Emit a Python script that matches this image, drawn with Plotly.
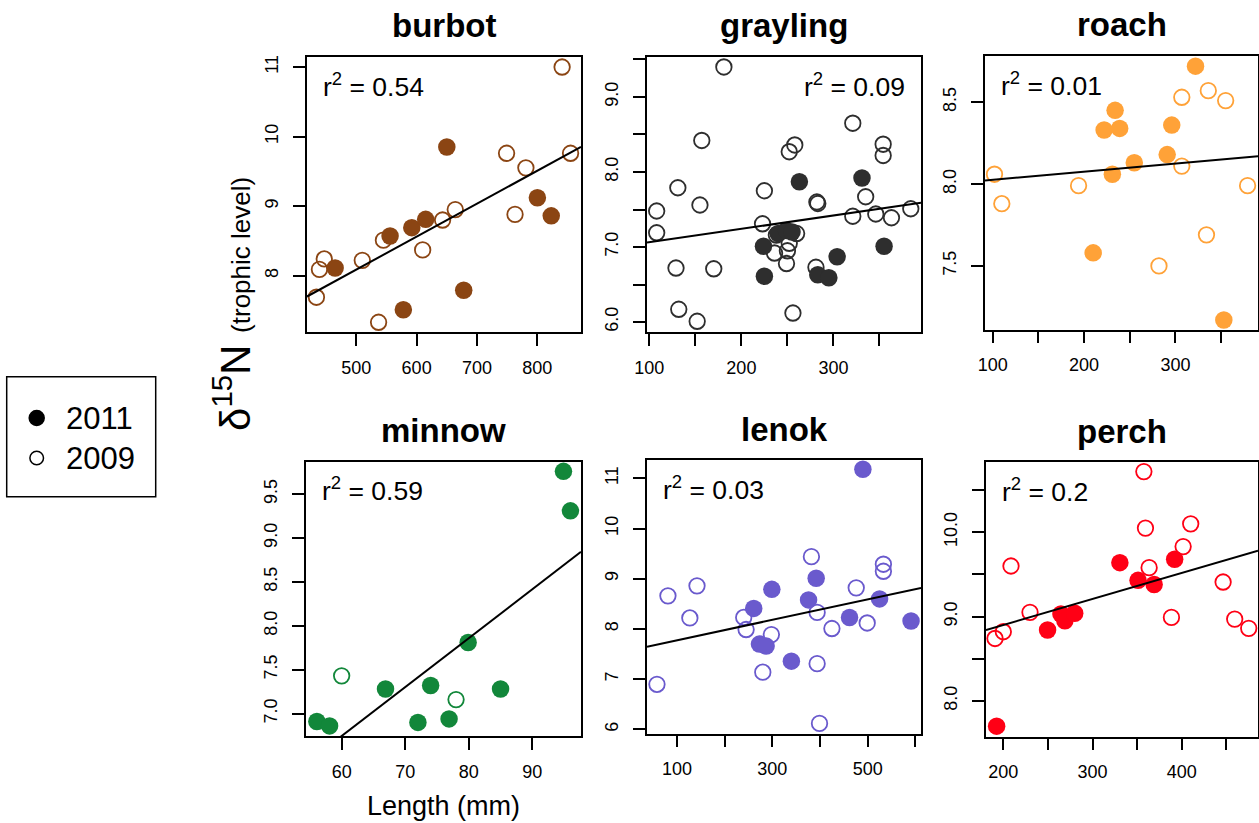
import numpy as np
import plotly.graph_objects as go

W, H = 1259, 823

# ---------------- data ----------------
species = ["burbot", "grayling", "roach", "minnow", "lenok", "perch"]
r2_values = ["0.54", "0.09", "0.01", "0.59", "0.03", "0.2"]
years = ["2011", "2009"]

burbot_len_2011 = [465, 556, 592, 615, 650, 578, 678, 800, 823]
burbot_n15_2011 = [8.11, 8.57, 8.69, 8.81, 9.85, 7.51, 7.79, 9.12, 8.86]
burbot_len_2009 = [434, 439, 447, 510, 537, 545, 610, 643, 664, 749, 781, 763, 841, 855]
burbot_n15_2009 = [7.69, 8.09, 8.24, 8.22, 7.33, 8.51, 8.37, 8.80, 8.95, 9.76, 9.55, 8.88, 11.0, 9.76]

grayling_len_2011 = [224, 225, 240, 249, 255, 263, 283, 295, 304, 331, 355]
grayling_n15_2011 = [7.01, 6.61, 7.18, 7.22, 7.20, 7.87, 6.63, 6.59, 6.87, 7.92, 7.01]
grayling_len_2009 = [108, 108, 131, 129, 132, 152, 155, 157, 181, 170, 223, 225, 236, 250,
                     252, 249, 260, 238, 252, 258, 256, 282, 283, 281, 321, 321, 335, 346,
                     354, 354, 363, 384]
grayling_n15_2009 = [7.48, 7.19, 7.79, 6.72, 6.17, 6.01, 7.56, 8.42, 9.40, 6.71, 7.31, 7.75,
                     6.92, 6.95, 7.05, 6.78, 7.18, 7.16, 8.27, 8.36, 6.12, 7.60, 7.58, 6.73,
                     8.65, 7.41, 7.67, 7.44, 8.37, 8.22, 7.39, 7.51]

roach_len_2011 = [210, 222, 234, 239, 231, 255, 291, 296, 322, 353]
roach_n15_2011 = [7.58, 8.33, 8.45, 8.34, 8.06, 8.13, 8.18, 8.36, 8.72, 7.17]
roach_len_2009 = [102, 110, 194, 282, 307, 307, 336, 334, 355, 379]
roach_n15_2009 = [8.06, 7.88, 7.99, 7.50, 8.53, 8.11, 8.57, 7.69, 8.51, 7.99]

minnow_len_2011 = [56.1, 58.1, 66.9, 72.0, 74.0, 76.9, 79.9, 85.0, 94.9, 96.0]
minnow_n15_2011 = [6.91, 6.86, 7.28, 6.90, 7.32, 6.94, 7.81, 7.28, 9.76, 9.31]
minnow_len_2009 = [60.0, 78.0]
minnow_n15_2009 = [7.43, 7.16]

lenok_len_2011 = [261, 273, 287, 299, 340, 376, 392, 462, 490, 525, 591]
lenok_n15_2011 = [8.41, 7.70, 7.66, 8.79, 7.36, 8.58, 9.01, 8.23, 11.18, 8.60, 8.16]
lenok_len_2009 = [58, 81, 127, 142, 240, 245, 280, 298, 382, 394, 394, 399, 425, 476, 499, 533, 533]
lenok_n15_2009 = [6.90, 8.66, 8.22, 8.86, 8.23, 7.99, 7.14, 7.89, 9.44, 8.33, 7.31, 6.12, 8.01,
                  8.82, 8.12, 9.29, 9.15]

perch_len_2011 = [192.5, 249.6, 264.6, 269, 280, 330.6, 351, 369, 392]
perch_n15_2011 = [7.70, 8.84, 9.03, 8.95, 9.04, 9.64, 9.43, 9.38, 9.68]
perch_len_2009 = [190.7, 200, 208.6, 229.9, 357.5, 359.3, 363.4, 388.4, 401.5, 410, 446.3, 459.3, 475]
perch_n15_2009 = [8.74, 8.82, 9.60, 9.05, 10.72, 10.05, 9.58, 8.99, 9.83, 10.10, 9.41, 8.97, 8.86]

len_2011 = [burbot_len_2011, grayling_len_2011, roach_len_2011, minnow_len_2011, lenok_len_2011, perch_len_2011]
n15_2011 = [burbot_n15_2011, grayling_n15_2011, roach_n15_2011, minnow_n15_2011, lenok_n15_2011, perch_n15_2011]
len_2009 = [burbot_len_2009, grayling_len_2009, roach_len_2009, minnow_len_2009, lenok_len_2009, perch_len_2009]
n15_2009 = [burbot_n15_2009, grayling_n15_2009, roach_n15_2009, minnow_n15_2009, lenok_n15_2009, perch_n15_2009]

# regression lines
fit_intercepts = [5.717, 6.886, 7.977, 3.403, 7.571, 8.281]
fit_slopes = [0.00474, 0.00178, 0.000492, 0.0557, 0.00204, 0.003094]

# labelled ticks
x_ticks = [[500, 600, 700, 800],
           [100, 200, 300],
           [100, 200, 300],
           [60, 70, 80, 90],
           [100, 300, 500],
           [200, 300, 400]]
x_ticklabels = [["500", "600", "700", "800"],
                ["100", "200", "300"],
                ["100", "200", "300"],
                ["60", "70", "80", "90"],
                ["100", "300", "500"],
                ["200", "300", "400"]]
y_ticks = [[8, 9, 10, 11],
           [6.0, 7.0, 8.0, 9.0],
           [7.5, 8.0, 8.5],
           [7.0, 7.5, 8.0, 8.5, 9.0, 9.5],
           [6, 7, 8, 9, 10, 11],
           [8.0, 9.0, 10.0]]
y_ticklabels = [["8", "9", "10", "11"],
                ["6.0", "7.0", "8.0", "9.0"],
                ["7.5", "8.0", "8.5"],
                ["7.0", "7.5", "8.0", "8.5", "9.0", "9.5"],
                ["6", "7", "8", "9", "10", "11"],
                ["8.0", "9.0", "10.0"]]
# unlabelled ticks
x_minor_ticks = [[], [150, 250, 350], [150, 250, 350], [], [200, 400, 600], [250, 350, 450]]
y_minor_ticks = [[], [6.5, 7.5, 8.5, 9.5], [], [], [], [8.5, 9.5, 10.5]]

# ---------------- styling / layout ----------------
colors = ["#8B4513", "#2E2E2E", "#FFA238", "#12873A", "#6A5ACD", "#FF0015"]
x_ranges = [(418.4, 872.3), (97.5, 395.1), (91.6, 390.4), (54.39, 97.66), (37.1, 611.9), (180.6, 485.4)]
y_ranges = [(7.19, 11.144), (5.867, 9.533), (7.112, 8.785), (6.745, 9.872), (5.92, 11.365), (7.577, 10.834)]
# plot boxes in pixels: left, right, top, bottom
boxes = [(307, 581, 57, 332), (647, 921, 57, 332), (985, 1258, 55.5, 329.5),
         (306, 581, 461.5, 736), (647, 921, 460, 733.5), (986, 1258, 462, 736.5)]
r2_side = ["left", "right", "left", "left", "left", "left"]

FONT = "Liberation Sans, Arial, Helvetica, sans-serif"


def px(x):
    return x / W


def py(y):
    return 1 - y / H


fig = go.Figure()
annotations = []
shapes = []

for i, name in enumerate(species):
    k = "" if i == 0 else str(i + 1)
    xa, ya = "x" + k, "y" + k
    L, R, T, B = boxes[i]

    # 2009 open circles
    fig.add_trace(go.Scatter(
        x=len_2009[i], y=n15_2009[i], mode="markers", xaxis=xa, yaxis=ya,
        marker=dict(symbol="circle-open", size=15.5, color=colors[i], line=dict(width=1.8, color=colors[i])),
        showlegend=False, hoverinfo="x+y"))
    # 2011 filled circles
    fig.add_trace(go.Scatter(
        x=len_2011[i], y=n15_2011[i], mode="markers", xaxis=xa, yaxis=ya,
        marker=dict(symbol="circle", size=17.5, color=colors[i], line=dict(width=0)),
        showlegend=False, hoverinfo="x+y"))
    # regression line across plot region
    xl = np.array(x_ranges[i])
    fig.add_trace(go.Scatter(
        x=xl, y=fit_intercepts[i] + fit_slopes[i] * xl, mode="lines", xaxis=xa, yaxis=ya,
        line=dict(color="black", width=2), showlegend=False, hoverinfo="skip"))

    axis_common = dict(showgrid=False, zeroline=False, showline=True, linecolor="black",
                       linewidth=1.8, mirror=True, ticks="outside", ticklen=12, tickwidth=1.6,
                       tickcolor="black", tickfont=dict(family=FONT, size=18, color="black"),
                       fixedrange=True, automargin=False)
    fig.layout["xaxis" + k] = dict(domain=[px(L), px(R)], range=list(x_ranges[i]),
                                   tickmode="array", tickvals=x_ticks[i], ticktext=x_ticklabels[i],
                                   minor=dict(tickmode="array", tickvals=x_minor_ticks[i], ticks="outside",
                                              ticklen=12, tickwidth=1.6, tickcolor="black", showgrid=False),
                                   anchor=ya, ticklabelstandoff=6, **axis_common)
    fig.layout["yaxis" + k] = dict(domain=[py(B), py(T)], range=list(y_ranges[i]),
                                   tickmode="array", tickvals=y_ticks[i], ticktext=y_ticklabels[i],
                                   minor=dict(tickmode="array", tickvals=y_minor_ticks[i], ticks="outside",
                                              ticklen=12, tickwidth=1.6, tickcolor="black", showgrid=False),
                                   anchor=xa, tickangle=-90, ticklabelstandoff=8, **axis_common)

    # title
    annotations.append(dict(text="<b>%s</b>" % name, xref="paper", yref="paper",
                            x=px((L + R) / 2), y=py(T - 31), xanchor="center", yanchor="middle",
                            showarrow=False, font=dict(family=FONT, size=33, color="black")))
    # r^2 label
    if r2_side[i] == "left":
        ax, anc = L + 14, "left"
    else:
        ax, anc = R - 14, "right"
    annotations.append(dict(text="r<sup>2</sup> = %s" % r2_values[i], xref="paper", yref="paper",
                            x=px(ax), y=py(T + 28), xanchor=anc, yanchor="middle",
                            showarrow=False, font=dict(family=FONT, size=26.5, color="black")))

# axis labels
annotations.append(dict(text="Length (mm)", xref="paper", yref="paper", x=px(443.5), y=py(806),
                        xanchor="center", yanchor="middle", showarrow=False,
                        font=dict(family=FONT, size=27, color="black")))
annotations.append(dict(text="δ<sup>15</sup>N <span style='font-size:26px'>(trophic level)</span>",
                        xref="paper", yref="paper", x=px(232), y=py(304), xanchor="center",
                        yanchor="middle", textangle=-90, showarrow=False,
                        font=dict(family=FONT, size=42, color="black")))

# legend box (manual, drawn as layout decoration)
shapes.append(dict(type="rect", xref="paper", yref="paper", x0=px(6.7), x1=px(155.7),
                   y0=py(496.7), y1=py(376.7), line=dict(color="black", width=1.5)))
legend_rows = [418, 458]
for j, yr in enumerate(years):
    cy = legend_rows[j]
    r = 7.5 if j == 0 else 6.8
    shapes.append(dict(type="circle", xref="paper", yref="paper",
                       x0=px(36.7 - r), x1=px(36.7 + r), y0=py(cy + r), y1=py(cy - r),
                       fillcolor="black" if j == 0 else "white",
                       line=dict(color="black", width=1.5)))
    annotations.append(dict(text=yr, xref="paper", yref="paper", x=px(64), y=py(cy),
                            xanchor="left", yanchor="middle", showarrow=False,
                            font=dict(family=FONT, size=31, color="black")))

fig.update_layout(width=W, height=H, autosize=False,
                  margin=dict(l=0, r=0, t=0, b=0, pad=0, autoexpand=False),
                  paper_bgcolor="white", plot_bgcolor="white",
                  annotations=annotations, shapes=shapes, showlegend=False)

fig.write_html("out.html",
               config={"displayModeBar": False, "responsive": False},
               post_script="document.body.style.margin='0px';document.body.style.overflow='hidden';")
